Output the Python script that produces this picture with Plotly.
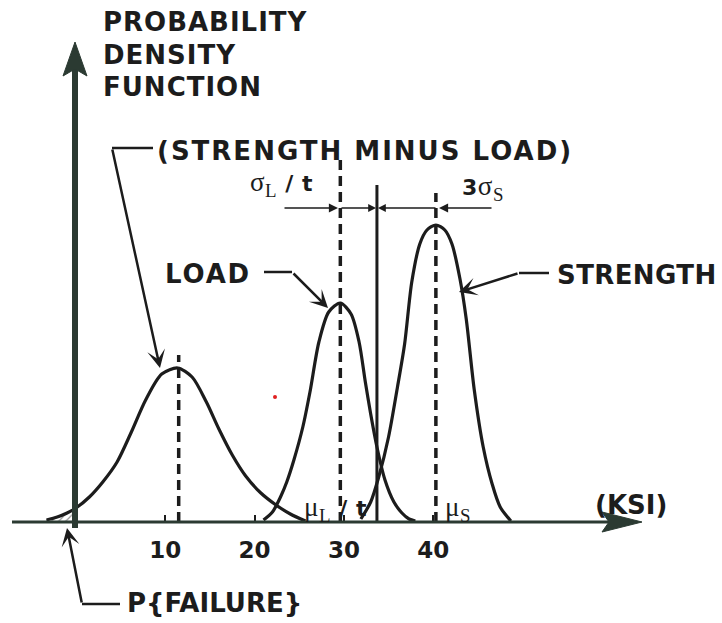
import plotly.graph_objects as go

# ---------------- data ----------------
# x in ksi, y = relative probability density (arbitrary units)
sml_x = [-3.3, -2.1, -1.0, 0.0, 1.5, 3.0, 4.6, 6.2, 7.8, 9.6, 11.4, 13.0, 14.6, 16.0, 17.5, 19.0, 20.7, 22.4, 24.0, 25.7]
sml_y = [0.002, 0.005, 0.009, 0.014, 0.025, 0.040, 0.060, 0.090, 0.122, 0.148, 0.154, 0.145, 0.120, 0.093, 0.067, 0.046, 0.029, 0.017, 0.008, 0.001]

load_x = [21.0, 22.0, 22.9, 23.6, 24.4, 25.4, 26.2, 27.2, 28.3, 29.6, 30.8, 31.7, 32.4, 33.0, 33.7, 34.6, 35.6, 36.5, 37.3, 38.0]
load_y = [0.002, 0.010, 0.025, 0.040, 0.062, 0.095, 0.130, 0.180, 0.210, 0.219, 0.208, 0.180, 0.140, 0.108, 0.075, 0.042, 0.020, 0.009, 0.003, 0.001]

str_x = [31.9, 33.0, 33.9, 35.0, 36.0, 36.8, 37.6, 38.5, 39.3, 40.3, 41.3, 42.1, 43.0, 43.7, 44.6, 45.6, 46.6, 47.5, 48.7]
str_y = [0.003, 0.020, 0.045, 0.085, 0.135, 0.178, 0.240, 0.278, 0.292, 0.297, 0.292, 0.278, 0.243, 0.203, 0.132, 0.075, 0.038, 0.015, 0.001]

mean_names = ["sml", "load", "strength"]
mean_x = [11.5, 29.6, 40.3]
mean_top = [0.167, 0.362, 0.329]
limit_x = 33.7
limit_top = 0.337

tick_vals = [10, 20, 30, 40]
tick_text = ["10", "20", "30", "40"]

# ---------------- geometry helpers ----------------
W, H = 722, 623
AXIS_PY = 522
X0_PX, PX_PER_KSI = 76.0, 8.93


def xp(px):
    return px / W


def yp(py):
    return (AXIS_PY - py) / AXIS_PY


INK = "#1c1c1c"
AXC = "#2b3a32"
FONT = "DejaVu Sans"

fig = go.Figure()

# hatched tail (probability of failure)
tail_n = sml_x.index(0.0) + 1
fig.add_trace(go.Scatter(x=sml_x[:tail_n], y=sml_y[:tail_n], mode="lines",
                         line=dict(color=INK, width=1, shape="spline"),
                         fill="tozeroy", fillcolor="rgba(0,0,0,0)",
                         fillpattern=dict(shape="/", fgcolor="#333", size=5, solidity=0.25),
                         hoverinfo="skip", showlegend=False))

for cx, cy in [(sml_x, sml_y), (load_x, load_y), (str_x, str_y)]:
    fig.add_trace(go.Scatter(x=cx, y=cy, mode="lines",
                             line=dict(color=INK, width=3.2, shape="spline", smoothing=0.8),
                             showlegend=False))

for mx, mt in zip(mean_x, mean_top):
    fig.add_trace(go.Scatter(x=[mx, mx], y=[0, mt], mode="lines",
                             line=dict(color=INK, width=3.5, dash="10px,6px"),
                             showlegend=False))

fig.add_trace(go.Scatter(x=[limit_x, limit_x], y=[0, limit_top], mode="lines",
                         line=dict(color=INK, width=3), showlegend=False))

shapes = []
# y axis
shapes.append(dict(type="line", xref="paper", yref="paper", x0=xp(75), x1=xp(75),
                   y0=yp(528), y1=yp(66), line=dict(color=AXC, width=6)))
shapes.append(dict(type="path", xref="paper", yref="paper",
                   path=f"M {xp(63)},{yp(76)} L {xp(75)},{yp(42)} L {xp(87)},{yp(76)} L {xp(75)},{yp(69)} Z",
                   fillcolor=AXC, line=dict(color=AXC, width=1)))
# x axis
shapes.append(dict(type="line", xref="paper", yref="paper", x0=xp(12), x1=xp(615),
                   y0=yp(AXIS_PY), y1=yp(AXIS_PY), line=dict(color=AXC, width=3)))
shapes.append(dict(type="path", xref="paper", yref="paper",
                   path=f"M {xp(602)},{yp(512)} L {xp(642)},{yp(AXIS_PY)} L {xp(602)},{yp(532)} L {xp(609)},{yp(AXIS_PY)} Z",
                   fillcolor=AXC, line=dict(color=AXC, width=1)))
# leader horizontals
for (a, b, yy) in [(112, 153, 148), (264, 292, 272), (519, 549, 273), (82, 120, 604)]:
    shapes.append(dict(type="line", xref="paper", yref="paper", x0=xp(a), x1=xp(b),
                       y0=yp(yy), y1=yp(yy), line=dict(color=INK, width=2.5)))
# stray red speck
shapes.append(dict(type="circle", xref="paper", yref="paper", x0=xp(273), x1=xp(277),
                   y0=yp(395), y1=yp(399), fillcolor="#e02020", line=dict(width=0)))

annotations = []


def arrow(tail, tip, width=2.5, head=3, size=1.2, color=INK):
    annotations.append(dict(xref="paper", yref="paper", x=xp(tip[0]), y=yp(tip[1]),
                            ax=tail[0] - tip[0], ay=tail[1] - tip[1], text="",
                            showarrow=True, arrowhead=head, arrowsize=size,
                            arrowwidth=width, arrowcolor=color))


arrow((112, 148), (160, 368))
arrow((292, 272), (328, 308))
arrow((519, 273), (459, 292))
arrow((82, 604), (67, 528))
# dimension arrows
arrow((283, 208), (338, 208), width=1.3, head=2, size=1.4)
arrow((340, 208), (376, 208), width=1.3, head=2, size=1.2)
arrow((437, 208), (378, 208), width=1.3, head=2, size=1.2)
arrow((493, 208), (439, 208), width=1.3, head=2, size=1.4)


def label(text, px, py, size=26, ls=1.0, anchor="left"):
    annotations.append(dict(xref="paper", yref="paper", x=xp(px), y=yp(py),
                            xanchor=anchor, yanchor="middle", showarrow=False,
                            text=f'<span style="letter-spacing:{ls}px">{text}</span>',
                            font=dict(family=FONT, size=size, color=INK, weight="bold")))


label("PROBABILITY", 101, 22, ls=1.0)
label("DENSITY", 101, 55, ls=1.0)
label("FUNCTION", 101, 87, ls=1.0)
label("(STRENGTH MINUS LOAD)", 155, 151, ls=2.0)
label("LOAD", 163, 274, ls=1.8)
label("STRENGTH", 555, 275, ls=0.4)
label("(KSI)", 593, 505, ls=0.0)
label("P{FAILURE}", 125, 603, ls=0.0)

SER = 'style="font-family:Liberation Serif;font-weight:normal;font-size:27px"'
label(f'<span {SER}>σ<sub>L</sub></span> / t', 248, 184, size=22, ls=0.5)
label(f'3<span {SER}>σ<sub>S</sub></span>', 460, 188, size=22, ls=0.5)
label(f'<span {SER}>μ<sub>L</sub></span> / t', 302, 509, size=22, ls=0.5)
label(f'<span {SER}>μ<sub>S</sub></span>', 443, 509, size=22, ls=0.5)

fig.update_layout(
    width=W, height=H,
    margin=dict(l=0, r=0, t=0, b=H - AXIS_PY, pad=0),
    paper_bgcolor="white", plot_bgcolor="white",
    showlegend=False,
    xaxis=dict(range=[(0 - X0_PX) / PX_PER_KSI, (W - X0_PX) / PX_PER_KSI],
               tickvals=tick_vals, ticktext=tick_text, ticks="inside", ticklen=7,
               tickwidth=2, tickcolor=INK, showgrid=False, zeroline=False, showline=False,
               ticklabelstandoff=12,
               tickfont=dict(family=FONT, size=23, color=INK, weight="bold")),
    yaxis=dict(range=[0, AXIS_PY / 1000.0], visible=False, showgrid=False, zeroline=False),
    shapes=shapes, annotations=annotations,
)

fig.write_html("out.html", config={"displayModeBar": False},
               post_script="document.body.style.margin='0';")
